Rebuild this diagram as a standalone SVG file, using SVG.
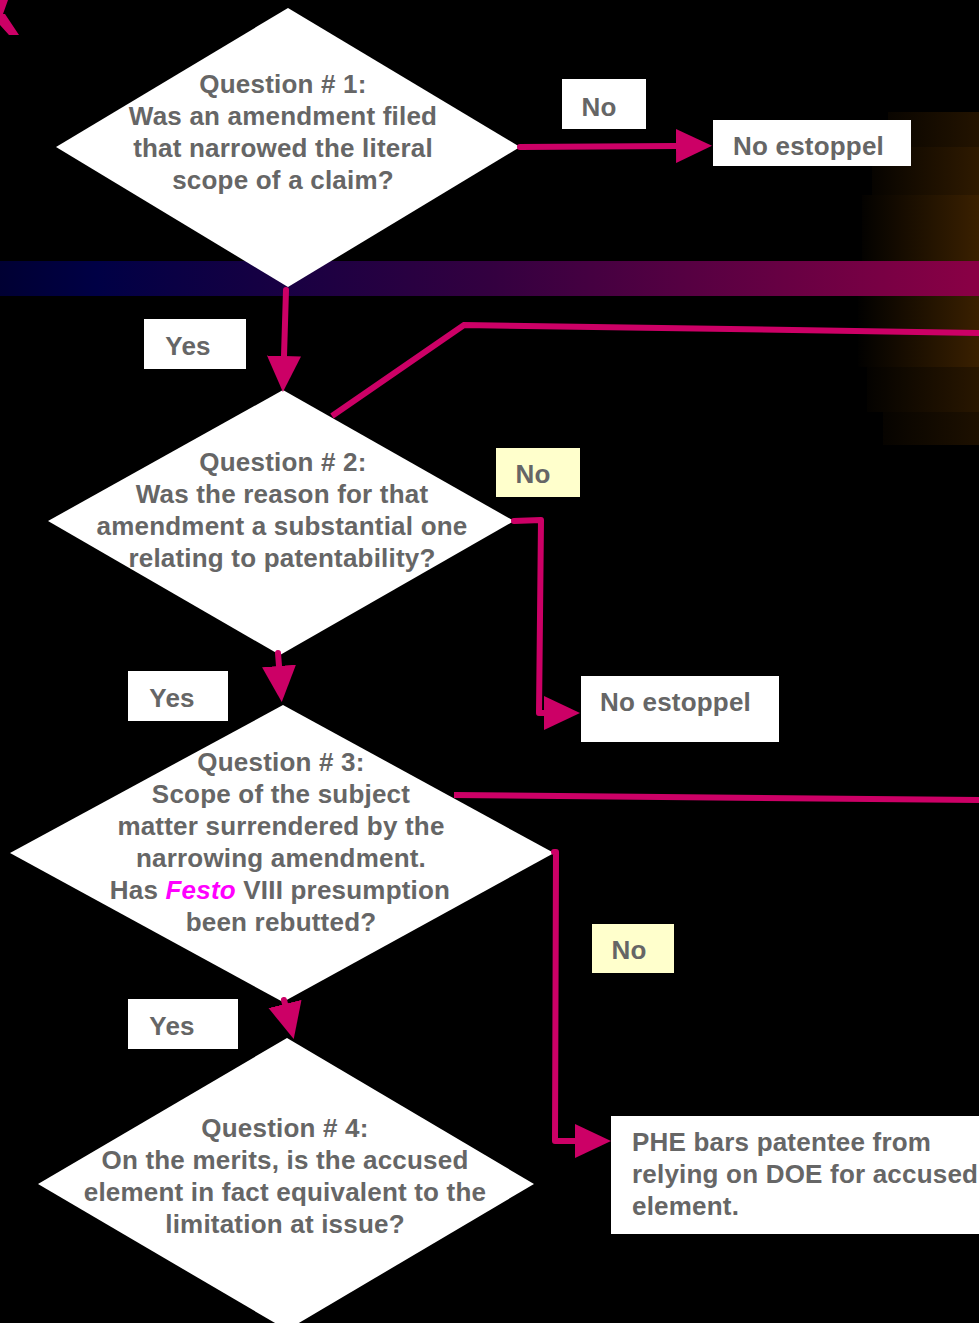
<svg xmlns="http://www.w3.org/2000/svg" width="979" height="1323" viewBox="0 0 979 1323">
<defs>
<style>
.t{font-family:"Liberation Sans",Arial,sans-serif;font-weight:bold;font-size:26px;fill:#666666;letter-spacing:0.2px}
.m{text-anchor:middle}
.dia{fill:#ffffff}
.box{fill:#ffffff}
.ybox{fill:#ffffcc}
.con{fill:none;stroke:#cc0066;stroke-width:6;stroke-linecap:round;stroke-linejoin:round}
.thin{fill:none;stroke:#cc0066;stroke-width:6}
.fe{fill:#ff00ff;font-style:italic}
</style>
<linearGradient id="band" x1="0" y1="0" x2="979" y2="0" gradientUnits="userSpaceOnUse">
<stop offset="0" stop-color="#000033"/>
<stop offset="0.1" stop-color="#000045"/>
<stop offset="0.5" stop-color="#330040"/>
<stop offset="1" stop-color="#8a0045"/>
</linearGradient>
<linearGradient id="g1" x1="855" y1="0" x2="979" y2="0" gradientUnits="userSpaceOnUse">
<stop offset="0" stop-color="#000000"/>
<stop offset="1" stop-color="#3a2000"/>
</linearGradient>
<marker id="ah" markerUnits="userSpaceOnUse" markerWidth="40" markerHeight="40" refX="0" refY="17" orient="auto">
<path d="M0,0 L36,17 L0,34 z" fill="#cc0066"/>
</marker>
</defs>
<rect width="979" height="1323" fill="#000000"/>
<g id="glow">
<rect x="888" y="112" width="91" height="35" fill="url(#g1)" opacity="0.6"/>
<rect x="872" y="147" width="107" height="48" fill="url(#g1)" opacity="0.8"/>
<rect x="862" y="195" width="117" height="67" fill="url(#g1)"/>
<rect x="858" y="296" width="121" height="71" fill="url(#g1)"/>
<rect x="867" y="367" width="112" height="45" fill="url(#g1)" opacity="0.7"/>
<rect x="883" y="412" width="96" height="33" fill="url(#g1)" opacity="0.5"/>
</g>
<rect id="bandbar" x="0" y="261" width="979" height="35" fill="url(#band)"/>
<path id="corner" d="M0,0 L8,0 L3,14 L0,14 z M0,14 L5,14 L19,35 L9,35 L0,25 z" fill="#cc0066"/>
<g id="q1">
<polygon class="dia" points="288,8 520,147 288,287 56,147"/>
<text class="t m" x="283" y="93">Question # 1:</text>
<text class="t m" x="283" y="125">Was an amendment filed</text>
<text class="t m" x="283" y="157">that narrowed the literal</text>
<text class="t m" x="283" y="189">scope of a claim?</text>
</g>
<g id="q2">
<polygon class="dia" points="283,390 514,521 280,655 48,521"/>
<text class="t m" x="283" y="471">Question # 2:</text>
<text class="t m" x="282" y="503">Was the reason for that</text>
<text class="t m" x="282" y="535">amendment a substantial one</text>
<text class="t m" x="282" y="567">relating to patentability?</text>
</g>
<g id="q3">
<polygon class="dia" points="283,705 554,853 283,1002 10,853"/>
<text class="t m" x="281" y="771">Question # 3:</text>
<text class="t m" x="281" y="803">Scope of the subject</text>
<text class="t m" x="281" y="835">matter surrendered by the</text>
<text class="t m" x="281" y="867">narrowing amendment.</text>
<text class="t m" x="280" y="899">Has <tspan class="fe">Festo</tspan> VIII presumption</text>
<text class="t m" x="281" y="931">been rebutted?</text>
</g>
<g id="q4">
<polygon class="dia" points="287,1038 534,1184 287,1330 38,1184"/>
<text class="t m" x="285" y="1137">Question # 4:</text>
<text class="t m" x="285" y="1169">On the merits, is the accused</text>
<text class="t m" x="285" y="1201">element in fact equivalent to the</text>
<text class="t m" x="285" y="1233">limitation at issue?</text>
</g>
<g id="connectors">
<path class="con" d="M520,147 L676,146" marker-end="url(#ah)"/>
<path class="con" d="M286,290 L284,356" marker-end="url(#ah)"/>
<path class="thin" d="M332,416 L464,325 L985,333"/>
<path class="con" d="M514,521 L541,520 L539,713 L544,713" marker-end="url(#ah)"/>
<path class="con" d="M278,653 L279,666" marker-end="url(#ah)"/>
<path class="thin" d="M454,795 L985,800"/>
<path class="con" d="M554,852 L556,852 L555,1141 L575,1141" marker-end="url(#ah)"/>
<path class="con" d="M284,1000 L285,1004" marker-end="url(#ah)"/>
</g>
<g id="lbl-no1">
<rect class="box" x="562" y="79" width="84" height="50"/>
<text class="t m" x="599" y="116">No</text>
</g>
<g id="end1">
<rect class="box" x="713" y="120" width="198" height="46"/>
<text class="t" x="733" y="155">No estoppel</text>
</g>
<g id="lbl-yes1">
<rect class="box" x="144" y="319" width="102" height="50"/>
<text class="t m" x="188" y="355">Yes</text>
</g>
<g id="lbl-no2">
<rect class="ybox" x="496" y="448" width="84" height="49"/>
<text class="t m" x="533" y="483">No</text>
</g>
<g id="lbl-yes2">
<rect class="box" x="128" y="671" width="100" height="50"/>
<text class="t m" x="172" y="707">Yes</text>
</g>
<g id="end2">
<rect class="box" x="581" y="676" width="198" height="66"/>
<text class="t" x="600" y="711">No estoppel</text>
</g>
<g id="lbl-no3">
<rect class="ybox" x="592" y="924" width="82" height="49"/>
<text class="t m" x="629" y="959">No</text>
</g>
<g id="lbl-yes3">
<rect class="box" x="128" y="999" width="110" height="50"/>
<text class="t m" x="172" y="1035">Yes</text>
</g>
<g id="end3">
<rect class="box" x="611" y="1116" width="380" height="118"/>
<text class="t" x="632" y="1151">PHE bars patentee from</text>
<text class="t" x="632" y="1183">relying on DOE for accused</text>
<text class="t" x="632" y="1215">element.</text>
</g>
</svg>
